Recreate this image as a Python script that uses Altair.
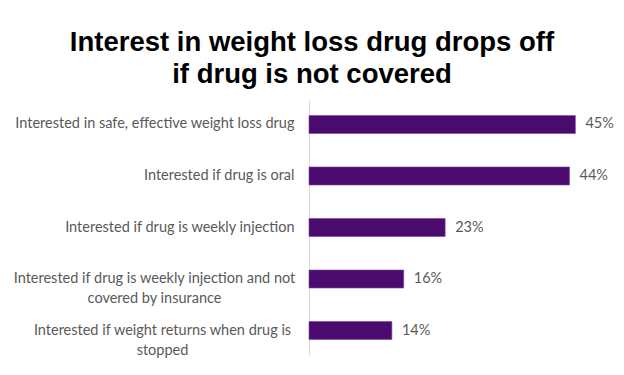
import altair as alt
import pandas as pd

categories = [
    "Interested in safe, effective weight loss drug",
    "Interested if drug is oral",
    "Interested if drug is weekly injection",
    "Interested if drug is weekly injection and not\ncovered by insurance",
    "Interested if weight returns when drug is\nstopped",
]
values = [0.45, 0.44, 0.23, 0.16, 0.14]

df = pd.DataFrame({"category": categories, "value": values})

two_line = "indexof(datum.value, '\\n') >= 0"

base = alt.Chart(df).encode(
    y=alt.Y(
        "category:N",
        sort=None,
        title=None,
        scale=alt.Scale(paddingInner=0.65, paddingOuter=0.3),
        axis=alt.Axis(
            labelExpr="split(datum.value, '\\n')",
            labelFont="Lato",
            labelFontSize=14.5,
            labelColor="#595959",
            labelLineHeight=20,
            labelAlign={"condition": {"test": two_line, "value": "center"}, "value": "right"},
            labelPadding={
                "condition": [
                    {"test": "indexof(datum.value, 'insurance') >= 0", "value": 155},
                    {"test": "indexof(datum.value, 'stopped') >= 0", "value": 147},
                ],
                "value": 15,
            },
            labelLimit=400,
            ticks=False,
            domainColor="#d9d9d9",
            domainWidth=1,
            grid=False,
        ),
    ),
    x=alt.X("value:Q", title=None, axis=None, scale=alt.Scale(domain=[0, 0.5])),
)

bars = base.mark_bar(color="#4a0a6e", stroke="#7a4a9a", strokeWidth=0.6)
labels = base.mark_text(
    align="left", baseline="middle", dx=10, font="Lato", fontSize=14.5, color="#595959"
).encode(text=alt.Text("value:Q", format=".0%"))

chart = (
    alt.layer(bars, labels)
    .properties(
        width=296,
        height=255,
        background="white",
        padding={"left": 309, "top": 100, "right": 19, "bottom": 20},
        autosize=alt.AutoSizeParams(type="none"),
        title=alt.Title(
            ["Interest in weight loss drug drops off", "if drug is not covered"],
            font="Liberation Sans",
            fontSize=27.5,
            fontWeight="bold",
            color="#000000",
            lineHeight=32,
            anchor="middle",
            dx=-145,
            offset=12,
        ),
    )
    .configure_view(strokeWidth=0, stroke="transparent")
)

chart.save("out.html", embed_options={"renderer": "svg", "actions": False})
